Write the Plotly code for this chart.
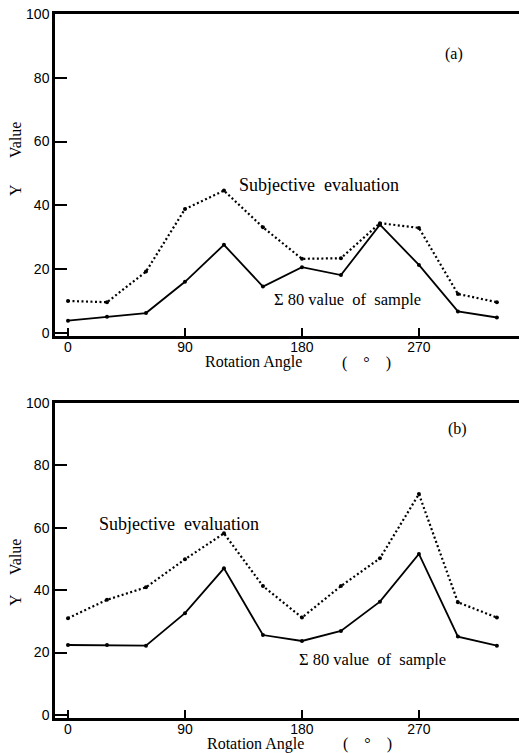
import plotly.graph_objects as go

angles = [0, 30, 60, 90, 120, 150, 180, 210, 240, 270, 300, 330]

# Panel (a)
subj_a = [10, 9.6, 19.2, 38.8, 44.6, 33.1, 23.2, 23.4, 34.4, 32.9, 12.2, 9.6]
sigma_a = [3.8, 5.0, 6.2, 16.0, 27.6, 14.5, 20.6, 18.1, 33.9, 21.3, 6.7, 4.8]

# Panel (b)
subj_b = [31.0, 36.9, 40.9, 49.9, 58.2, 41.3, 31.2, 41.3, 50.2, 70.8, 36.1, 31.2]
sigma_b = [22.4, 22.4, 22.2, 32.6, 47.0, 25.6, 23.7, 26.9, 36.3, 51.6, 25.1, 22.2]

x_ticks = [0, 90, 180, 270]
y_ticks = [0, 20, 40, 60, 80, 100]

W, H = 519, 753
L, R, T, B = 55, 0, 14, 35
PW, PH = W - L - R, H - T - B


def px(x):
    return (x - L) / PW


def py(y):
    return (H - B - y) / PH


SERIF = "Liberation Serif, Times New Roman, serif"
SANS = "Liberation Sans, Arial, sans-serif"
NB = "\u00a0"

fig = go.Figure()

for xa, ya, subj, sig in [("x", "y", subj_a, sigma_a), ("x2", "y2", subj_b, sigma_b)]:
    fig.add_trace(go.Scatter(
        x=angles, y=subj, xaxis=xa, yaxis=ya, mode="lines+markers",
        line=dict(color="black", width=2.2, dash="2px,2.5px"),
        marker=dict(color="black", size=4), showlegend=False, cliponaxis=False))
    fig.add_trace(go.Scatter(
        x=angles, y=sig, xaxis=xa, yaxis=ya, mode="lines+markers",
        line=dict(color="black", width=1.8),
        marker=dict(color="black", size=4), showlegend=False, cliponaxis=False))

xax = dict(range=[-10, 347], tickvals=x_ticks, ticks="inside", ticklen=8, tickwidth=2,
           tickcolor="black", showline=True, linewidth=2.5, linecolor="black",
           mirror=True, showgrid=False, zeroline=False, ticklabelstandoff=-4,
           tickfont=dict(family=SANS, size=14, color="black"))
yax = dict(range=[-1, 100], tickvals=y_ticks, ticks="inside", ticklen=12, tickwidth=2.2,
           tickcolor="black", showline=True, linewidth=2.5, linecolor="black",
           showgrid=False, zeroline=False,
           tickfont=dict(family=SANS, size=14, color="black"))

top_dom = [py(336), 1.0]
bot_dom = [0.0, py(403)]

fig.update_layout(
    width=W, height=H,
    margin=dict(l=L, r=R, t=T, b=B),
    paper_bgcolor="white", plot_bgcolor="white",
    xaxis=dict(xax, anchor="y"),
    yaxis=dict(yax, domain=top_dom, anchor="x"),
    xaxis2=dict(xax, anchor="y2"),
    yaxis2=dict(yax, domain=bot_dom, anchor="x2"),
)

anns = []


def text(x, y, s, size=15, angle=0, xanchor="center"):
    anns.append(dict(x=px(x), y=py(y), xref="paper", yref="paper", text=s,
                     showarrow=False, textangle=angle, xanchor=xanchor, yanchor="middle",
                     font=dict(family=SERIF, size=size, color="black")))


subj_txt = "Subjective" + NB * 2 + "evaluation"
sig_txt = "\u03a3" + NB + "80 value" + NB * 2 + "of" + NB * 2 + "sample"
rot_txt = "Rotation Angle"
deg_txt = "(" + NB * 4 + "\u00b0" + NB * 4 + ")"

# Panel (a) texts
text(237, 185, subj_txt, size=18, xanchor="left")
text(272, 299, sig_txt, size=16.5, xanchor="left")
text(454, 54, "(a)", size=16)
text(203, 362, rot_txt, size=16, xanchor="left")
text(366, 363, deg_txt, size=16)
text(15, 140, "Value", size=16, angle=-90)
text(15, 190, "Y", size=16, angle=-90)

# Panel (b) texts
text(97, 524, subj_txt, size=18, xanchor="left")
text(297, 659, sig_txt, size=16.5, xanchor="left")
text(457, 429, "(b)", size=16)
text(205, 744, rot_txt, size=16, xanchor="left")
text(367, 744, deg_txt, size=16)
text(15, 557, "Value", size=16, angle=-90)
text(15, 600, "Y", size=16, angle=-90)

fig.update_layout(annotations=anns)

fig.write_html("out.html")
